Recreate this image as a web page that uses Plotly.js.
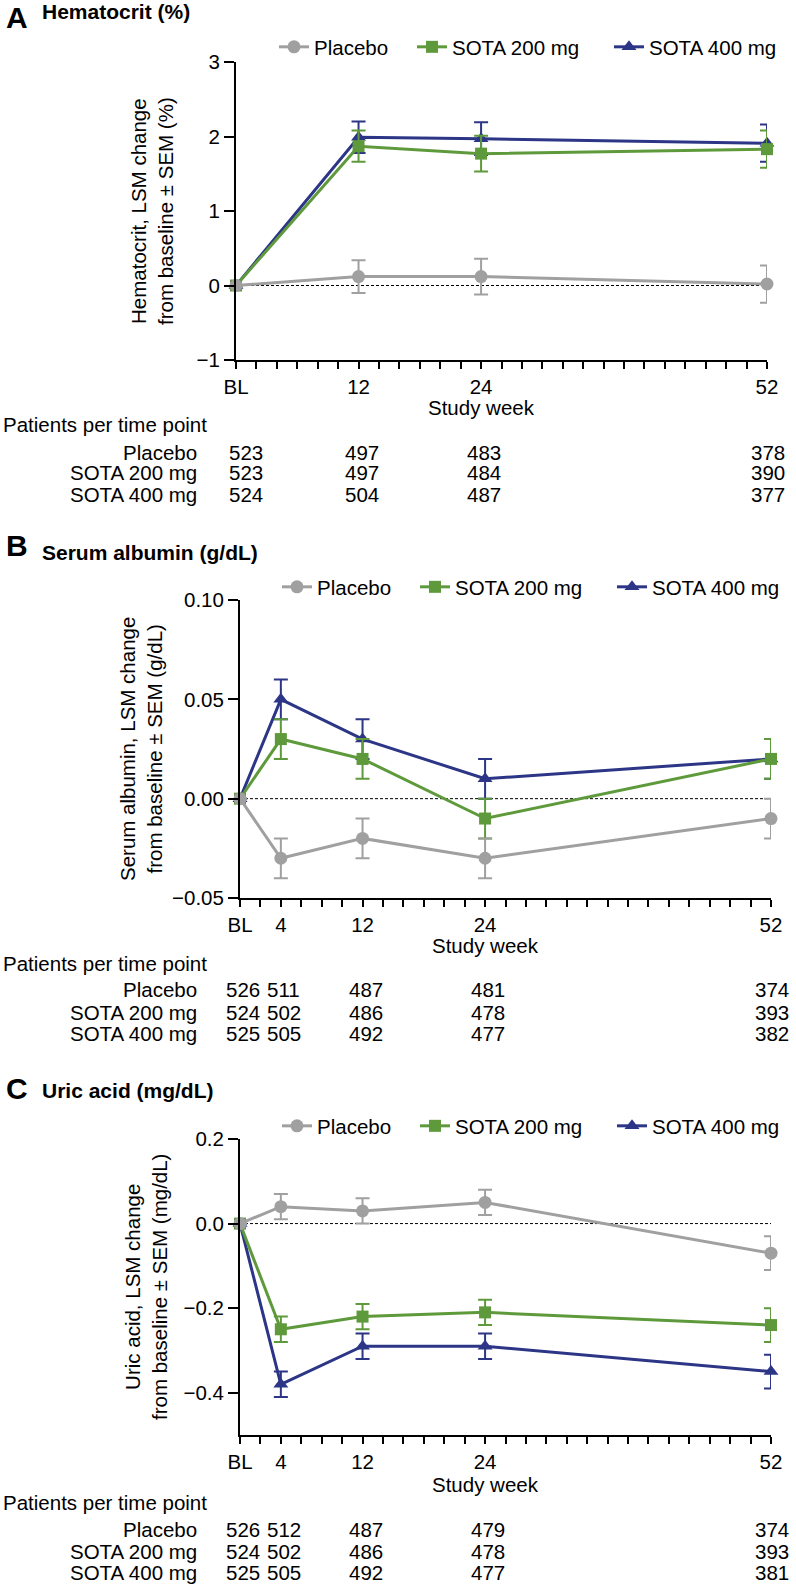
<!DOCTYPE html>
<html>
<head>
<meta charset="utf-8">
<script src="https://cdn.plot.ly/plotly-3.0.1.min.js"></script>
<style>
  html, body { margin: 0; padding: 0; background: #fff; }
  #chart { width: 796px; height: 1586px; }
</style>
</head>
<body>
<div id="chart"></div>
<script>
// Hematocrit / serum albumin / uric acid: LSM change from baseline ± SEM by study week.

const W = 796, H = 1586;
const FONT = "Liberation Sans, Arial, sans-serif";

const GROUPS = ["Placebo", "SOTA 200 mg", "SOTA 400 mg"];

// ── Panel A: hematocrit (%) ────────────────────────────────────────────
const weeksA = [0, 12, 24, 52];
const hctPlacebo = [0, 0.12, 0.12, 0.02];
const hctPlaceboSem = [0, 0.22, 0.24, 0.25];
const hct200 = [0, 1.87, 1.77, 1.83];
const hct200Sem = [0, 0.21, 0.24, 0.25];
const hct400 = [0, 1.99, 1.97, 1.91];
const hct400Sem = [0, 0.21, 0.22, 0.25];
const nA_placebo = [523, 497, 483, 378];
const nA_200 = [523, 497, 484, 390];
const nA_400 = [524, 504, 487, 377];

// ── Panel B: serum albumin (g/dL) ──────────────────────────────────────
const weeksBC = [0, 4, 12, 24, 52];
const albPlacebo = [0, -0.03, -0.02, -0.03, -0.01];
const albPlaceboSem = [0, 0.01, 0.01, 0.01, 0.01];
const alb200 = [0, 0.03, 0.02, -0.01, 0.02];
const alb200Sem = [0, 0.01, 0.01, 0.01, 0.01];
const alb400 = [0, 0.05, 0.03, 0.01, 0.02];
const alb400Sem = [0, 0.01, 0.01, 0.01, 0.01];
const nB_placebo = [526, 511, 487, 481, 374];
const nB_200 = [524, 502, 486, 478, 393];
const nB_400 = [525, 505, 492, 477, 382];

// ── Panel C: uric acid (mg/dL) ─────────────────────────────────────────
const uaPlacebo = [0, 0.04, 0.03, 0.05, -0.07];
const uaPlaceboSem = [0, 0.03, 0.03, 0.03, 0.04];
const ua200 = [0, -0.25, -0.22, -0.21, -0.24];
const ua200Sem = [0, 0.03, 0.03, 0.03, 0.04];
const ua400 = [0, -0.38, -0.29, -0.29, -0.35];
const ua400Sem = [0, 0.03, 0.03, 0.03, 0.04];
const nC_placebo = [526, 512, 487, 479, 374];
const nC_200 = [524, 502, 486, 478, 393];
const nC_400 = [525, 505, 492, 477, 381];

const labelsA = { 0: "BL", 12: "12", 24: "24", 52: "52" };
const labelsBC = { 0: "BL", 4: "4", 12: "12", 24: "24", 52: "52" };

const COLORS = { placebo: "#a0a0a0", s200: "#5e9a3b", s400: "#2c3586" };

const px = v => v / W;
const py = v => 1 - v / H;

function series(name, x, y, sem, color, symbol, size, axes, legendId) {
  return {
    x, y, name, type: "scatter", mode: "lines+markers",
    xaxis: axes[0], yaxis: axes[1], legend: legendId, cliponaxis: false, showlegend: true,
    line: { color, width: 3 },
    marker: { symbol, size, color },
    error_y: { type: "data", array: sem, visible: true, color, thickness: 2, width: 7 },
    hoverinfo: "x+y+name",
  };
}

// panel geometry (pixels): plot box, legend row, text rows below the axis
const PANELS = [
  { key: "A", xa: "x", ya: "y", x0: 236, x1: 767, top: 62, bottom: 360, legendY: 47, legendX: [317, 455, 652],
    studyWeekY: 407, patientsY: 424, rowsY: [452, 473, 494], bls: 10,
    weeks: weeksA, labels: labelsA, range: [-1, 3], tickvals: [-1, 0, 1, 2, 3], tickformat: "d",
    letterY: 18, titleY: 12, title: "Hematocrit (%)", ytitle: "Hematocrit, LSM change<br>from baseline ± SEM (%)", ytitleX: 152,
    data: [[hct400, hct400Sem], [hct200, hct200Sem], [hctPlacebo, hctPlaceboSem]],
    counts: [nA_placebo, nA_200, nA_400] },
  { key: "B", xa: "x2", ya: "y2", x0: 240, x1: 771, top: 600, bottom: 898, legendY: 587, legendX: [320, 458, 655],
    studyWeekY: 946, patientsY: 963, rowsY: [990, 1012, 1033], bls: 3,
    weeks: weeksBC, labels: labelsBC, range: [-0.05, 0.1], tickvals: [-0.05, 0, 0.05, 0.1], tickformat: ".2f",
    letterY: 545, titleY: 552, title: "Serum albumin (g/dL)", ytitle: "Serum albumin, LSM change<br>from baseline ± SEM (g/dL)", ytitleX: 141,
    data: [[alb400, alb400Sem], [alb200, alb200Sem], [albPlacebo, albPlaceboSem]],
    counts: [nB_placebo, nB_200, nB_400] },
  { key: "C", xa: "x3", ya: "y3", x0: 240, x1: 771, top: 1139, bottom: 1435, legendY: 1126, legendX: [320, 458, 655],
    studyWeekY: 1484, patientsY: 1502, rowsY: [1529, 1551, 1572], bls: 3,
    weeks: weeksBC, labels: labelsBC, range: [-0.5, 0.2], tickvals: [-0.4, -0.2, 0, 0.2], tickformat: ".1f",
    letterY: 1088, titleY: 1090, title: "Uric acid (mg/dL)", ytitle: "Uric acid, LSM change<br>from baseline ± SEM (mg/dL)", ytitleX: 146,
    data: [[ua400, ua400Sem], [ua200, ua200Sem], [uaPlacebo, uaPlaceboSem]],
    counts: [nC_placebo, nC_200, nC_400] },
];

const traces = [];
const annotations = [];
const shapes = [];
const layout = {
  width: W, height: H,
  margin: { l: 0, r: 0, t: 0, b: 0 },
  paper_bgcolor: "#fff", plot_bgcolor: "rgba(0,0,0,0)",
  font: { family: FONT, size: 20.5, color: "#000" },
  hovermode: "closest",
  showlegend: true,
};

const textFont = { family: FONT, size: 20.5, color: "#000" };

PANELS.forEach((p, pi) => {
  const legIds = [0, 1, 2].map(k => {
    const n = pi * 3 + k + 1;
    return n === 1 ? "legend" : `legend${n}`;
  });
  // series drawn navy, green, gray so placebo sits on top (as in the figure)
  const styles = [
    { name: GROUPS[2], color: COLORS.s400, symbol: "triangle-up", size: 13, leg: legIds[2] },
    { name: GROUPS[1], color: COLORS.s200, symbol: "square", size: 12, leg: legIds[1] },
    { name: GROUPS[0], color: COLORS.placebo, symbol: "circle", size: 13, leg: legIds[0] },
  ];
  styles.forEach((s, i) => {
    traces.push(series(s.name, p.weeks, p.data[i][0], p.data[i][1], s.color, s.symbol, s.size, [p.xa, p.ya], s.leg));
  });
  legIds.forEach((id, k) => {
    layout[id] = {
      x: px(p.legendX[k] - 43), y: py(p.legendY), xanchor: "left", yanchor: "middle",
      orientation: "h", bgcolor: "rgba(0,0,0,0)", borderwidth: 0, visible: true,
      font: textFont, itemclick: false, itemdoubleclick: false,
    };
  });

  const xKey = p.xa === "x" ? "xaxis" : p.xa.replace("x", "xaxis");
  const yKey = p.ya === "y" ? "yaxis" : p.ya.replace("y", "yaxis");
  const tickvals = [];
  for (let w = 0; w <= 52; w += 2) tickvals.push(w);
  layout[xKey] = {
    domain: [px(p.x0), px(p.x1)], range: [0, 52], anchor: p.ya,
    showline: true, linecolor: "#000", linewidth: 2, showgrid: false, zeroline: false,
    ticks: "outside", ticklen: 7, tickwidth: 2, tickcolor: "#000",
    tickmode: "array", tickvals, ticktext: tickvals.map(w => p.labels[w] ?? ""),
    tickfont: textFont, fixedrange: true,
  };
  layout[yKey] = {
    domain: [py(p.bottom), py(p.top)], range: p.range, anchor: p.xa,
    showline: true, linecolor: "#000", linewidth: 2, showgrid: false, zeroline: false,
    ticks: "outside", ticklen: 10, tickwidth: 2, tickcolor: "#000",
    tickmode: "array", tickvals: p.tickvals, tickformat: p.tickformat,
    tickfont: textFont, fixedrange: true,
  };

  shapes.push({
    type: "line", xref: p.xa, yref: p.ya, x0: 0, x1: 52, y0: 0, y1: 0, layer: "below",
    line: { color: "#000", width: 1, dash: "3px,2px" },
  });

  // panel letter and title
  annotations.push({ text: `<b>${p.key}</b>`, xref: "paper", yref: "paper", x: px(4), y: py(p.letterY),
    xanchor: "left", yanchor: "middle", showarrow: false, font: { family: FONT, size: 30, color: "#000" } });
  annotations.push({ text: `<b>${p.title}</b>`, xref: "paper", yref: "paper", x: px(40), y: py(p.titleY),
    xanchor: "left", yanchor: "middle", showarrow: false, font: { family: FONT, size: 21, color: "#000" } });
  // y-axis title
  annotations.push({ text: p.ytitle, xref: "paper", yref: "paper", x: px(p.ytitleX), y: py((p.top + p.bottom) / 2),
    xanchor: "center", yanchor: "middle", textangle: -90, showarrow: false, font: textFont });
  // x-axis title
  annotations.push({ text: "Study week", xref: p.xa, yref: "paper", x: 24, y: py(p.studyWeekY),
    xanchor: "center", yanchor: "middle", showarrow: false, font: textFont });
  // patients-per-time-point table
  annotations.push({ text: "Patients per time point", xref: "paper", yref: "paper", x: px(1), y: py(p.patientsY),
    xanchor: "left", yanchor: "middle", showarrow: false, font: textFont });
  GROUPS.forEach((g, r) => {
    annotations.push({ text: g, xref: "paper", yref: "paper", x: px(199), y: py(p.rowsY[r]),
      xanchor: "right", yanchor: "middle", showarrow: false, font: textFont });
    p.counts[r].forEach((n, c) => {
      const w = p.weeks[c];
      annotations.push({ text: String(n), xref: p.xa, yref: "paper", x: w, xshift: w === 0 ? p.bls : (w === 52 ? 1 : 3),
        y: py(p.rowsY[r]), xanchor: "center", yanchor: "middle", showarrow: false, font: textFont });
    });
  });
});

layout.annotations = annotations;
layout.shapes = shapes;

Plotly.newPlot("chart", traces, layout, { displayModeBar: false, staticPlot: false });
</script>
</body>
</html>
